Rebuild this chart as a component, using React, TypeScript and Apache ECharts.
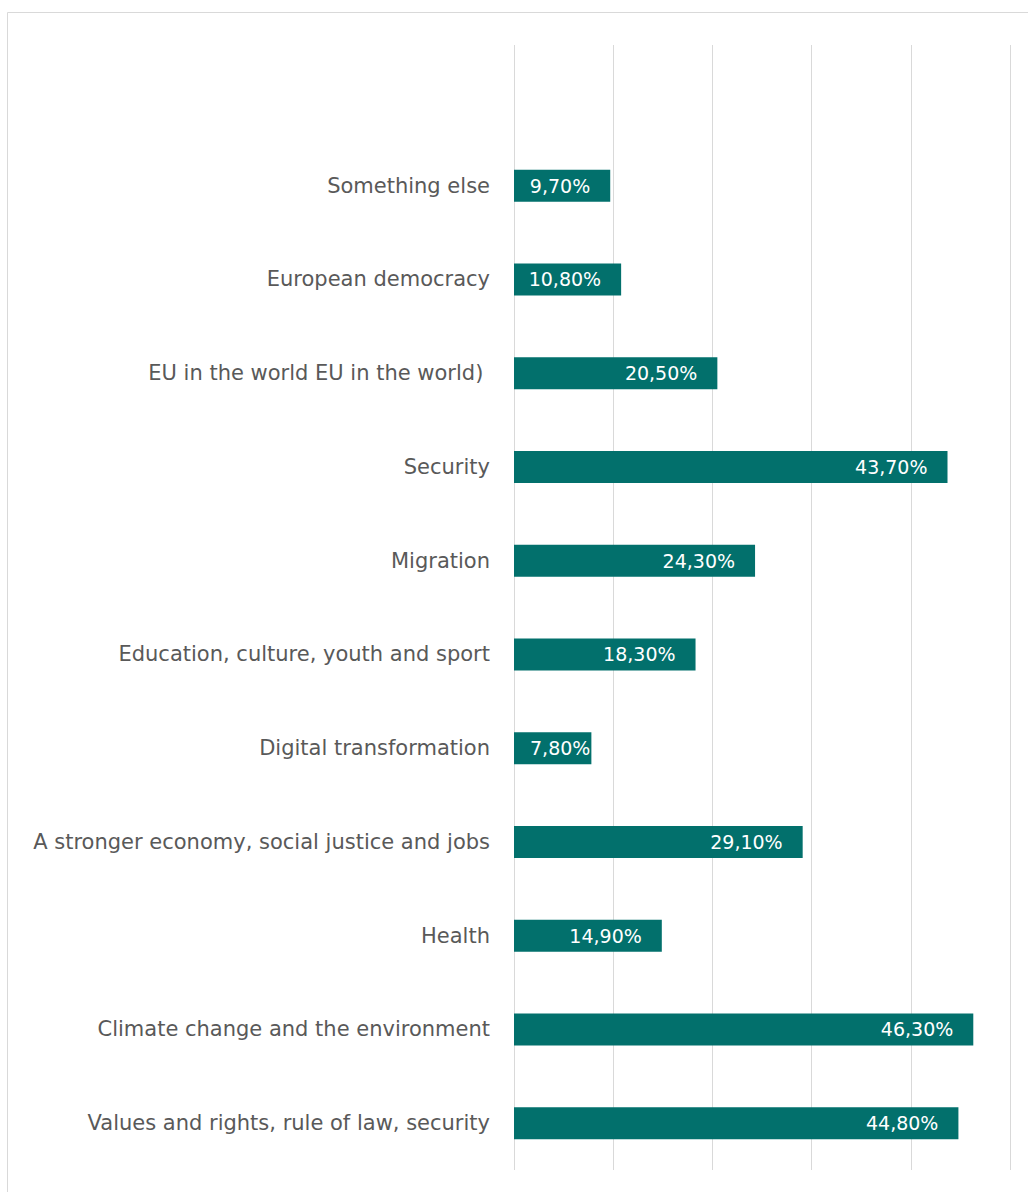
import React, { useEffect, useRef } from "react";
import * as echarts from "echarts";

const categories = [
  "Values and rights, rule of law, security",
  "Climate change and the environment",
  "Health",
  "A stronger economy, social justice and jobs",
  "Digital transformation",
  "Education, culture, youth and sport",
  "Migration",
  "Security",
  "EU in the world EU in the world) ",
  "European democracy",
  "Something else",
  "",
];
const values = [44.8, 46.3, 14.9, 29.1, 7.8, 18.3, 24.3, 43.7, 20.5, 10.8, 9.7, null];

const axisMin = 0;
const axisMax = 50;
const axisInterval = 10;

export default function App() {
  const ref = useRef<HTMLDivElement>(null);
  useEffect(() => {
    document.body.style.margin = "0";
    const chart = echarts.init(ref.current!, null, { renderer: "svg" });
    const seriesData = values.map((v) =>
      v != null && v < 9
        ? { value: v, label: { position: "insideLeft", distance: 16 } }
        : { value: v }
    );
    chart.setOption({
      animation: false,
      backgroundColor: "#ffffff",
      graphic: [
        {
          type: "rect",
          shape: { x: 7.5, y: 12.5, width: 1100, height: 1300 },
          style: { fill: "none", stroke: "#d9d9d9", lineWidth: 1 },
          silent: true,
        },
      ],
      grid: { left: 514, right: 18, top: 45, bottom: 22, containLabel: false },
      xAxis: {
        type: "value",
        min: axisMin,
        max: axisMax,
        interval: axisInterval,
        axisLabel: { show: false },
        axisLine: { show: false },
        axisTick: { show: false },
        splitLine: { show: true, lineStyle: { color: "#d9d9d9", width: 1 } },
      },
      yAxis: {
        type: "category",
        data: categories,
        axisLine: { show: false },
        axisTick: { show: false },
        axisLabel: {
          margin: 24,
          color: "#595959",
          fontSize: 21,
          fontFamily: "DejaVu Sans",
        },
      },
      series: [
        {
          type: "bar",
          data: seriesData,
          barWidth: 32,
          itemStyle: { color: "#02706c" },
          label: {
            show: true,
            position: "insideRight",
            distance: 20,
            color: "#ffffff",
            fontSize: 19,
            fontFamily: "DejaVu Sans",
            formatter: (p: any) =>
              p.value == null ? "" : Number(p.value).toFixed(2).replace(".", ",") + "%",
          },
        },
      ],
    });
    return () => chart.dispose();
  }, []);
  return <div ref={ref} style={{ width: 1028, height: 1192 }} />;
}
